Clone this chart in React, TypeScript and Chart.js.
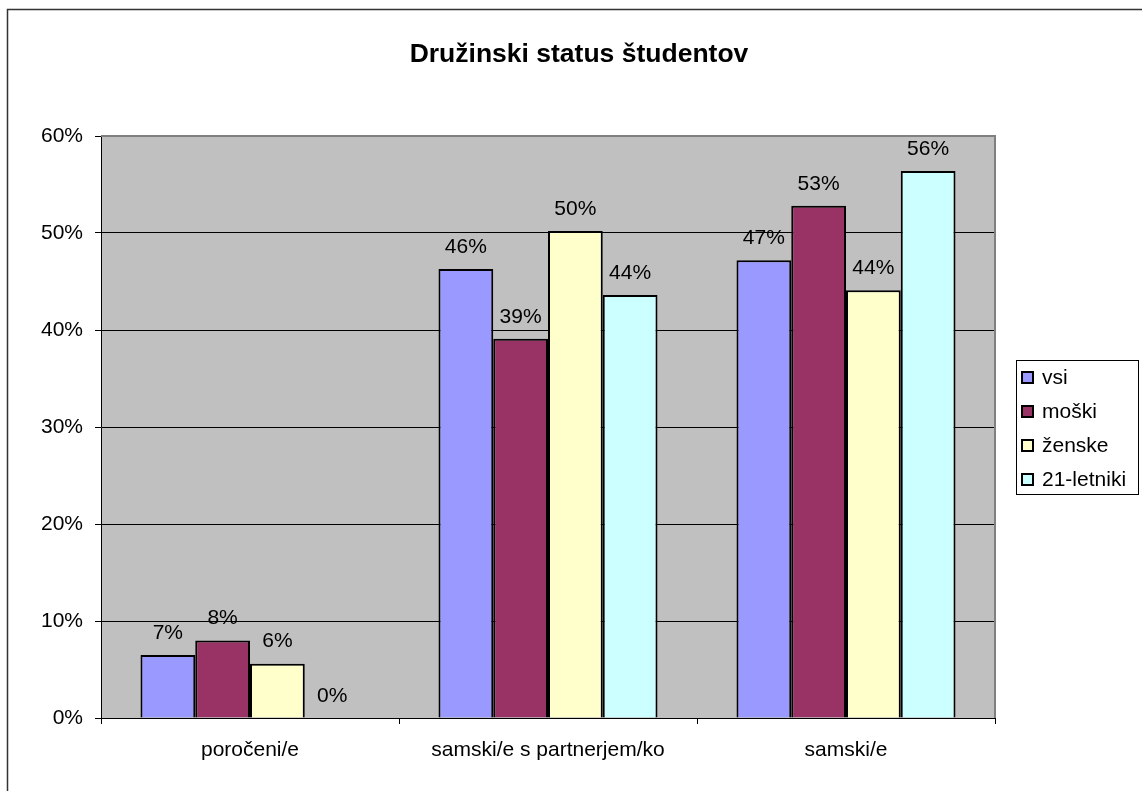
import React, { useEffect, useRef } from "react";
import { Chart, registerables } from "chart.js";

Chart.register(...registerables);

const categories = ["poročeni/e", "samski/e s partnerjem/ko", "samski/e"];
const seriesNames = ["vsi", "moški", "ženske", "21-letniki"];
const vsi = [6.5, 46.3, 47.2];
const moski = [8.0, 39.1, 52.8];
const zenske = [5.6, 50.2, 44.1];
const letniki21 = [0, 43.6, 56.4];
const seriesColors = ["#9999FF", "#993366", "#FFFFCC", "#CCFFFF"];
const yTicks = [0, 10, 20, 30, 40, 50, 60];
const titleText = "Družinski status študentov";

const FONT = "'Liberation Sans', Arial, sans-serif";

const decorPlugin = {
  id: "decor",
  beforeDraw(chart: any) {
    const { ctx, chartArea } = chart;
    ctx.save();
    ctx.fillStyle = "#FFFFFF";
    ctx.fillRect(0, 0, chart.width, chart.height);
    // outer frame (left + top visible)
    ctx.strokeStyle = "#333333";
    ctx.lineWidth = 1.5;
    ctx.beginPath();
    ctx.moveTo(7.5, chart.height + 5);
    ctx.lineTo(7.5, 9.5);
    ctx.lineTo(chart.width + 5, 9.5);
    ctx.stroke();
    // plot background
    ctx.fillStyle = "#C0C0C0";
    ctx.fillRect(chartArea.left, chartArea.top, chartArea.right - chartArea.left, chartArea.bottom - chartArea.top);
    // title
    ctx.fillStyle = "#000";
    ctx.font = `bold 26.5px ${FONT}`;
    ctx.textAlign = "center";
    ctx.textBaseline = "alphabetic";
    ctx.fillText(titleText, 579, 62);
    ctx.restore();
  },
  afterDatasetsDraw(chart: any) {
    const { ctx, chartArea } = chart;
    ctx.save();
    // plot border top/right
    ctx.strokeStyle = "#808080";
    ctx.lineWidth = 2;
    ctx.beginPath();
    ctx.moveTo(chartArea.left, chartArea.top);
    ctx.lineTo(chartArea.right, chartArea.top);
    ctx.lineTo(chartArea.right, chartArea.bottom);
    ctx.stroke();
    // data labels
    ctx.fillStyle = "#000";
    ctx.font = `21px ${FONT}`;
    ctx.textAlign = "center";
    ctx.textBaseline = "middle";
    chart.data.datasets.forEach((ds: any, i: number) => {
      const meta = chart.getDatasetMeta(i);
      meta.data.forEach((el: any, j: number) => {
        const v = ds.data[j];
        ctx.fillText(Math.round(v) + "%", el.x, el.y - 22);
      });
    });
    // legend
    const lx = 1016, ly = 360, lw = 122, lh = 134;
    ctx.fillStyle = "#FFFFFF";
    ctx.fillRect(lx, ly, lw, lh);
    ctx.strokeStyle = "#000";
    ctx.lineWidth = 1;
    ctx.strokeRect(lx + 0.5, ly + 0.5, lw, lh);
    ctx.textAlign = "left";
    ctx.textBaseline = "middle";
    seriesNames.forEach((name, i) => {
      const cy = 377 + i * 34;
      ctx.fillStyle = seriesColors[i];
      ctx.fillRect(1022, cy - 5, 11, 11);
      ctx.strokeStyle = "#000";
      ctx.lineWidth = 2;
      ctx.strokeRect(1022, cy - 5, 11, 11);
      ctx.fillStyle = "#000";
      ctx.fillText(name, 1042, cy + 1);
    });
    ctx.restore();
  },
};

export default function App() {
  const ref = useRef<HTMLCanvasElement | null>(null);
  useEffect(() => {
    if (!ref.current) return;
    const data = [vsi, moski, zenske, letniki21];
    const chart = new Chart(ref.current, {
      type: "bar",
      data: {
        labels: categories,
        datasets: seriesNames.map((n, i) => ({
          label: n,
          data: data[i],
          backgroundColor: seriesColors[i],
          borderColor: "#000",
          borderWidth: 2,
          categoryPercentage: 0.735,
          barPercentage: 1,
        })),
      },
      options: {
        animation: false,
        responsive: true,
        maintainAspectRatio: false,
        layout: { padding: { left: 0, right: 147, top: 136, bottom: 0 } },
        plugins: {
          legend: { display: false },
          title: { display: false },
          tooltip: { enabled: false },
        },
        scales: {
          x: {
            afterFit: (s: any) => {
              s.height = 73;
            },
            grid: {
              display: true,
              drawOnChartArea: false,
              drawTicks: true,
              tickLength: 6,
              color: "#000",
              offset: true,
            },
            border: { display: true, color: "#000", width: 1 },
            ticks: {
              color: "#000",
              font: { family: FONT, size: 21 },
              padding: 14,
            },
          },
          y: {
            min: 0,
            max: 60,
            afterFit: (s: any) => {
              s.width = 101;
            },
            afterBuildTicks: (s: any) => {
              s.ticks = yTicks.map((v) => ({ value: v }));
            },
            grid: {
              color: "#000",
              lineWidth: 1,
              drawTicks: true,
              tickLength: 6,
            },
            border: { display: true, color: "#000", width: 1 },
            ticks: {
              color: "#000",
              font: { family: FONT, size: 21 },
              padding: 12,
              callback: (v: any) => v + "%",
            },
          },
        },
      },
      plugins: [decorPlugin],
    });
    return () => chart.destroy();
  }, []);
  return (
    <div style={{ position: "absolute", left: 0, top: 0, width: 1142, height: 791 }}>
      <canvas ref={ref} />
    </div>
  );
}
